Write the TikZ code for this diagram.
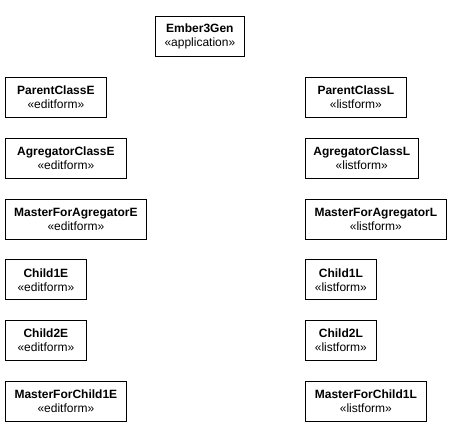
\documentclass[tikz,border=0pt]{standalone}
\usepackage{fontspec}
\setmainfont{Liberation Sans}
\usepackage{tikz}
\usetikzlibrary{positioning}

\begin{document}
\begin{tikzpicture}[
    x=1pt, y=1pt,
    node distance=20pt,
    every node/.style={font=\fontsize{12}{14}\selectfont},
    classbox/.style={
        draw,
        line width=0.8pt,
        align=center,
        minimum height=40pt,
        inner xsep=8pt,
        inner ysep=3pt
    }
]

\useasboundingbox (0,0) rectangle (451,-426);

\node[classbox, minimum width=89pt, anchor=north west] (app) at (155,-16) {
\textbf{Ember3Gen}\\«application»
};

% edit forms
\node[classbox, minimum width=101pt, anchor=north west] (parentE) at (5,-77) {
\textbf{ParentClassE}\\«editform»
};
\node[classbox, minimum width=121pt, below=of parentE.south west, anchor=north west] (agregE) {
\textbf{AgregatorClassE}\\«editform»
};
\node[classbox, minimum width=141pt, below=of agregE.south west, anchor=north west] (masterAgE) {
\textbf{MasterForAgregatorE}\\«editform»
};
\node[classbox, minimum width=81pt, below=of masterAgE.south west, anchor=north west] (child1E) {
\textbf{Child1E}\\«editform»
};
\node[classbox, minimum width=81pt, below=of child1E.south west, anchor=north west] (child2E) {
\textbf{Child2E}\\«editform»
};
\node[classbox, minimum width=121pt, below=of child2E.south west, anchor=north west] (masterChE) {
\textbf{MasterForChild1E}\\«editform»
};

% list forms
\node[classbox, minimum width=101pt, anchor=north west] (parentL) at (305,-77) {
\textbf{ParentClassL}\\«listform»
};
\node[classbox, minimum width=111pt, below=of parentL.south west, anchor=north west] (agregL) {
\textbf{AgregatorClassL}\\«listform»
};
\node[classbox, minimum width=141pt, below=of agregL.south west, anchor=north west] (masterAgL) {
\textbf{MasterForAgregatorL}\\«listform»
};
\node[classbox, minimum width=71pt, below=of masterAgL.south west, anchor=north west] (child1L) {
\textbf{Child1L}\\«listform»
};
\node[classbox, minimum width=71pt, below=of child1L.south west, anchor=north west] (child2L) {
\textbf{Child2L}\\«listform»
};
\node[classbox, minimum width=121pt, below=of child2L.south west, anchor=north west] (masterChL) {
\textbf{MasterForChild1L}\\«listform»
};

\end{tikzpicture}
\end{document}
